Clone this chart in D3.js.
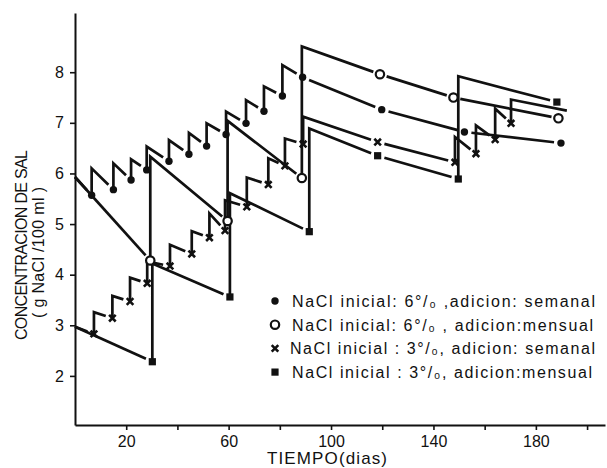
<!DOCTYPE html>
<html>
<head>
<meta charset="utf-8">
<script src="https://cdn.jsdelivr.net/npm/d3@7"></script>
<style>
body { margin: 0; background: #fff; }
text { font-family: "Liberation Sans", Arial, sans-serif; fill: #111; }
</style>
</head>
<body>
<div id="chart"></div>
<script>
var width = 607;
var height = 468;

var xTicks = [20, 40, 60, 80, 100, 120, 140, 160, 180, 200];
var xTickLabels = [20, 60, 100, 140, 180];
var yTicks = [2, 3, 4, 5, 6, 7, 8];

// rows: [dia, concentracion medida (marca), nivel tras la adicion de sal]
var sal6Semanal = [
  [0, null, 5.93],
  [6.5, 5.57, 6.10],
  [15.0, 5.68, 6.20],
  [21.9, 5.87, 6.28],
  [28.0, 6.07, 6.53],
  [36.7, 6.24, 6.66],
  [44.5, 6.38, 6.80],
  [51.4, 6.54, 6.99],
  [59.0, 6.77, 7.22],
  [66.8, 6.99, 7.45],
  [73.8, 7.23, 7.72],
  [81.0, 7.53, 8.14],
  [88.9, 7.90, 7.90],
  [119.8, 7.26, 7.26],
  [152.1, 6.82, 6.82],
  [189.8, 6.60, 6.60]
];
var sal6Mensual = [
  [0, null, 5.93],
  [29.4, 4.28, 6.33],
  [59.6, 5.06, 7.04],
  [88.6, 5.91, 8.51],
  [119.1, 7.96, 7.96],
  [147.8, 7.50, 7.50],
  [188.8, 7.09, 7.09]
];
var sal3Semanal = [
  [0, null, 2.97],
  [7.4, 2.83, 3.26],
  [14.6, 3.14, 3.58],
  [21.5, 3.47, 3.94],
  [28.2, 3.83, 4.26],
  [37.1, 4.17, 4.59],
  [45.6, 4.41, 4.86],
  [52.5, 4.73, 5.21],
  [58.6, 4.87, 5.47],
  [67.1, 5.34, 5.92],
  [75.5, 5.78, 6.30],
  [82.0, 6.15, 6.69],
  [89.1, 6.58, 7.12],
  [118.2, 6.62, 6.62],
  [148.4, 6.22, 6.72],
  [156.6, 6.39, 6.95],
  [164.1, 6.67, 7.28],
  [170.3, 6.99, 7.46],
  [192.1, null, 7.24]
];
var sal3Mensual = [
  [0, null, 2.97],
  [30.2, 2.28, 4.22],
  [60.5, 3.56, 5.61],
  [91.5, 4.85, 6.89],
  [118.2, 6.35, 6.35],
  [149.7, 5.89, 7.92],
  [188.2, 7.41, 7.41]
];

var legendLabels = [
  "NaCl inicial: 6°/\u2080 ,adicion: semanal",
  "NaCl inicial: 6°/\u2080 , adicion:mensual",
  "NaCl inicial : 3°/\u2080, adicion: semanal",
  "NaCl inicial : 3°/\u2080, adicion:mensual"
];

var svg = d3.select("#chart")
  .append("svg")
  .attr("width", width)
  .attr("height", height)
  .style("background-color", "white");

var x = d3.scaleLinear().domain([0, 207]).range([75, 605]);
var y = d3.scaleLinear().domain([1.03, 9.17]).range([425, 13]);

// ejes
var xAxis = svg.append("g")
  .attr("transform", "translate(0," + y(1.03) + ")")
  .call(d3.axisBottom(x)
    .tickValues(xTicks)
    .tickSize(5)
    .tickSizeOuter(0)
    .tickPadding(6)
    .tickFormat(function (d) { return xTickLabels.indexOf(d) >= 0 ? d : ""; }));

var yAxis = svg.append("g")
  .attr("transform", "translate(" + x(0) + ",0)")
  .call(d3.axisLeft(y)
    .tickValues(yTicks)
    .tickSize(5)
    .tickSizeOuter(0)
    .tickPadding(6));

[xAxis, yAxis].forEach(function (g) {
  g.select(".domain").attr("stroke", "#111").attr("stroke-width", 2);
  g.selectAll(".tick line").attr("stroke", "#111").attr("stroke-width", 1.6);
  g.selectAll(".tick text").style("font-size", "16px").attr("fill", "#111");
});

svg.append("text")
  .attr("x", 267).attr("y", 464)
  .attr("textLength", 120)
  .style("font-size", "17px")
  .text("TIEMPO(dias)");

svg.append("text")
  .attr("transform", "translate(27,340) rotate(-90)")
  .attr("textLength", 190)
  .style("font-size", "16px")
  .text("CONCENTRACION DE SAL");

svg.append("text")
  .attr("transform", "translate(44,318) rotate(-90)")
  .attr("textLength", 131)
  .style("font-size", "16px")
  .text("( g NaCl /100 ml )");

// lineas en diente de sierra, cortadas cerca de las marcas
var gap = 7;
function trim(p, q, g) {
  var dx = q[0] - p[0], dy = q[1] - p[1];
  var len = Math.sqrt(dx * dx + dy * dy);
  return [p[0] + dx / len * g, p[1] + dy / len * g];
}

function sawPaths(rows) {
  var paths = [];
  for (var i = 0; i < rows.length - 1; i++) {
    var a = rows[i], b = rows[i + 1];
    var p = [x(a[0]), y(a[2])];
    var q = [x(b[0]), y(b[1] == null ? b[2] : b[1])];
    var jump = a[1] != null && a[1] !== a[2];
    var s = p, e = q;
    if (a[1] != null && !jump) s = trim(p, q, gap);
    if (b[1] != null) e = trim(q, p, gap);
    var pts = [];
    if (jump) pts.push([x(a[0]), y(a[1])]);
    pts.push(s, e);
    paths.push(pts);
  }
  return paths;
}

var allSeries = [
  { rows: sal6Semanal, mark: "dot" },
  { rows: sal6Mensual, mark: "ring" },
  { rows: sal3Semanal, mark: "cross" },
  { rows: sal3Mensual, mark: "square" }
];

var line = d3.line();
allSeries.forEach(function (s) {
  svg.append("g")
    .selectAll("path")
    .data(sawPaths(s.rows))
    .enter()
    .append("path")
    .attr("d", line)
    .attr("fill", "none")
    .attr("stroke", "#111")
    .attr("stroke-width", 2.7)
    .attr("stroke-linejoin", "miter");
});

function drawMark(g, kind, cx, cy) {
  if (kind === "dot") {
    g.append("circle").attr("cx", cx).attr("cy", cy).attr("r", 3.7).attr("fill", "#111");
  } else if (kind === "ring") {
    g.append("circle").attr("cx", cx).attr("cy", cy).attr("r", 4.2)
      .attr("fill", "white").attr("stroke", "#111").attr("stroke-width", 2.2);
  } else if (kind === "cross") {
    var k = 3.3;
    g.append("path")
      .attr("d", "M" + (cx - k) + "," + (cy - k) + "L" + (cx + k) + "," + (cy + k) +
                 "M" + (cx - k) + "," + (cy + k) + "L" + (cx + k) + "," + (cy - k))
      .attr("stroke", "#111").attr("stroke-width", 2.6);
  } else {
    g.append("rect").attr("x", cx - 3.6).attr("y", cy - 3.6)
      .attr("width", 7.2).attr("height", 7.2).attr("fill", "#111");
  }
}

var marks = svg.append("g");
allSeries.forEach(function (s) {
  s.rows.forEach(function (r) {
    if (r[1] != null) drawMark(marks, s.mark, x(r[0]), y(r[1]));
  });
});

// leyenda
var legendEnds = [303, 301, 305, 300];
var legend = svg.append("g");
legendLabels.forEach(function (t, i) {
  var ly = 301 + i * 23.7;
  drawMark(legend, allSeries[i].mark, 275, ly);
  legend.append("text")
    .attr("x", i === 2 ? 290 : 292)
    .attr("y", ly + 6)
    .attr("textLength", legendEnds[i])
    .style("font-size", "16px")
    .text(t);
});
</script>
</body>
</html>
